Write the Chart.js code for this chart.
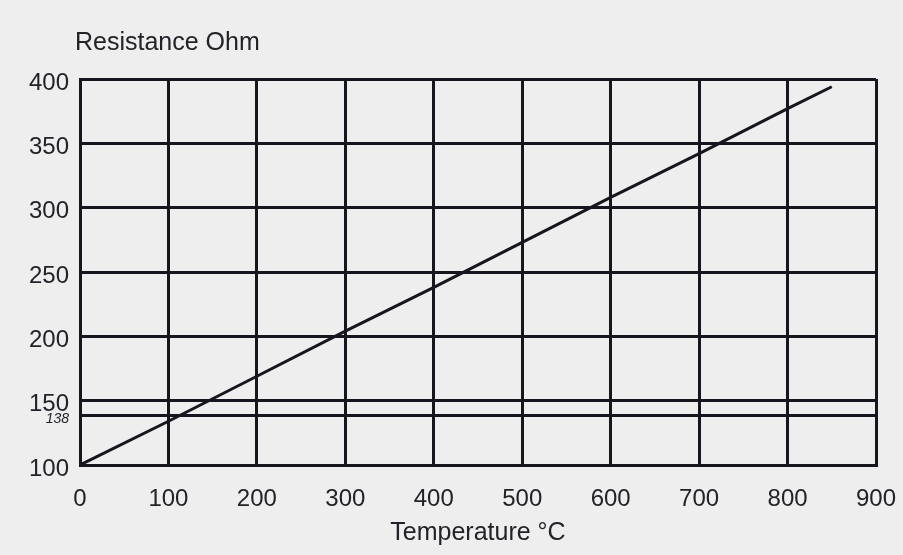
<!DOCTYPE html>
<html>
<head>
<meta charset="utf-8">
<script src="https://cdn.jsdelivr.net/npm/chart.js@4.4.1/dist/chart.umd.min.js"></script>
<style>
  html, body { margin: 0; padding: 0; background: #eeeeee; }
  #wrap { width: 903px; height: 555px; }
</style>
</head>
<body>
<div id="wrap"><canvas id="chart"></canvas></div>
<script>
// readings from the picture: temperature (°C) vs resistance (Ohm)
const tempC = [0, 100, 200, 300, 400, 500, 600, 700, 800, 850];
const resistance = [100, 134, 169, 204, 238, 273, 308, 342, 377, 394];

const xTicks = [0, 100, 200, 300, 400, 500, 600, 700, 800, 900];
const yTicks = [100, 138.5, 150, 200, 250, 300, 350, 400];

const yTitle = 'Resistance Ohm';
const xTitle = 'Temperature °C';

const ink = '#16161f';
const textColor = '#222228';
const fontFamily = '"Liberation Sans", Arial, Helvetica, sans-serif';

// axis captions: one top left above the y axis, one centred under the x labels
const captionPlugin = {
  id: 'caption',
  afterDraw(chart) {
    const { ctx, chartArea } = chart;
    ctx.save();
    ctx.font = '25px ' + fontFamily;
    ctx.fillStyle = textColor;
    ctx.textBaseline = 'middle';
    ctx.textAlign = 'left';
    ctx.fillText(yTitle, chartArea.left - 5, 43);
    ctx.textAlign = 'center';
    ctx.fillText(xTitle, (chartArea.left + chartArea.right) / 2, 533);
    ctx.restore();
  }
};

new Chart(document.getElementById('chart'), {
  type: 'line',
  data: {
    datasets: [{
      data: tempC.map((t, i) => ({ x: t, y: resistance[i] })),
      borderColor: ink,
      borderWidth: 3,
      pointRadius: 0,
      tension: 0,
      fill: false
    }]
  },
  options: {
    responsive: true,
    maintainAspectRatio: false,
    animation: false,
    layout: { padding: { left: 0, right: 27, top: 79, bottom: 0 } },
    plugins: { legend: { display: false }, tooltip: { enabled: false } },
    scales: {
      x: {
        type: 'linear',
        min: 0,
        max: 900,
        afterBuildTicks: axis => { axis.ticks = xTicks.map(v => ({ value: v })); },
        afterFit: axis => {
          axis.height = 90;
          axis.paddingLeft = 0;
          axis.paddingRight = 0;
        },
        grid: { color: ink, lineWidth: 3, drawTicks: false },
        border: { color: ink, width: 3 },
        ticks: {
          color: textColor,
          font: { family: fontFamily, size: 24 },
          padding: 20,
          maxRotation: 0,
          autoSkip: false
        }
      },
      y: {
        type: 'linear',
        min: 100,
        max: 400,
        afterBuildTicks: axis => { axis.ticks = yTicks.map(v => ({ value: v })); },
        afterFit: axis => {
          axis.width = 80;
          axis.paddingTop = 0;
          axis.paddingBottom = 0;
        },
        grid: { color: ink, lineWidth: 3, drawTicks: false },
        border: { color: ink, width: 3 },
        ticks: {
          color: textColor,
          padding: 11,
          labelOffset: 4,
          autoSkip: false,
          font: ctx => (ctx.tick && ctx.tick.value === 138.5)
            ? { family: fontFamily, size: 14, style: 'italic' }
            : { family: fontFamily, size: 24 },
          callback: v => v === 138.5 ? '138' : v
        }
      }
    }
  },
  plugins: [captionPlugin]
});
</script>
</body>
</html>
